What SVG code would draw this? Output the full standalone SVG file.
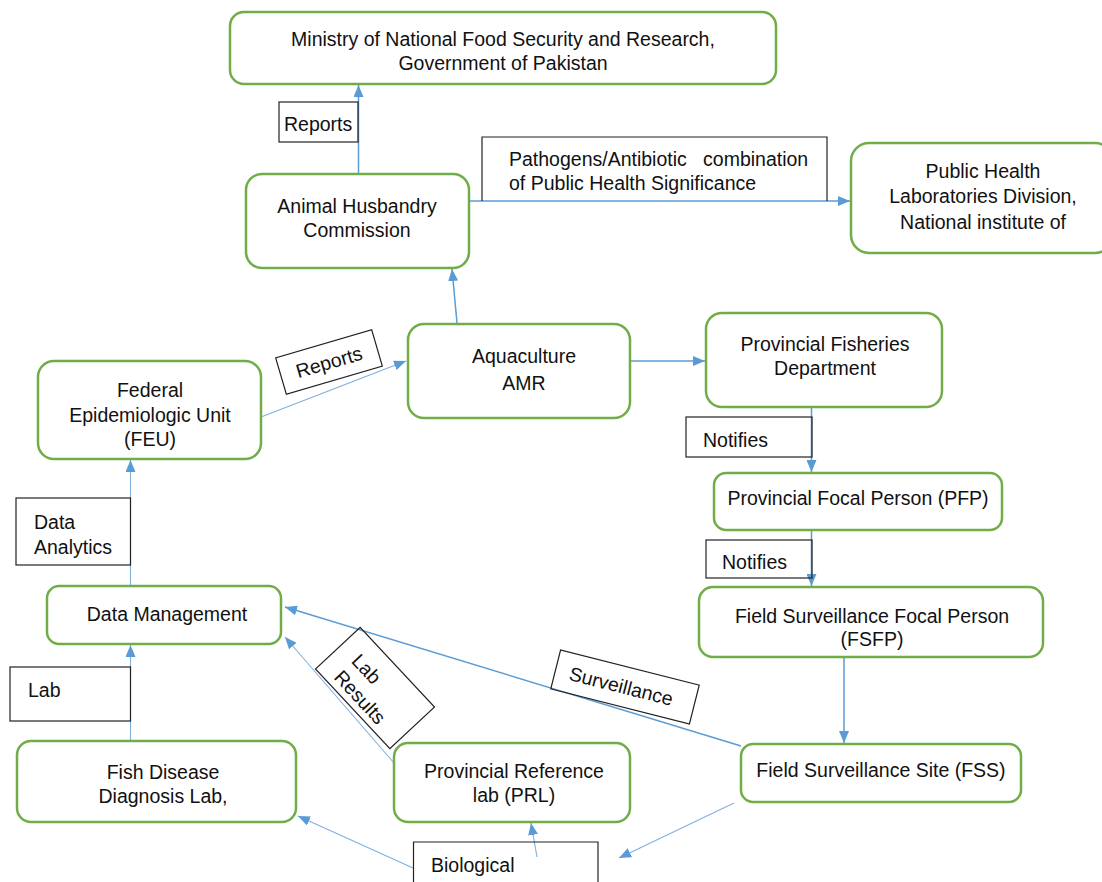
<svg xmlns="http://www.w3.org/2000/svg" width="1102" height="882" viewBox="0 0 1102 882">
<defs>
<style>
.node{fill:#fff;stroke:#70ad47;stroke-width:2.5}
.lbl{fill:none;stroke:#222;stroke-width:1.2}
.t{font-family:"Liberation Sans",Arial,sans-serif;font-size:19.5px;fill:#111}
.c{text-anchor:middle}
.e{fill:none;stroke:#5b9bd5;stroke-width:1.5}
.e2{fill:none;stroke:#7fb0de;stroke-width:1.1}
</style>
<marker id="ah" markerUnits="userSpaceOnUse" markerWidth="12" markerHeight="10" refX="12" refY="5" orient="auto">
<path d="M0,0 L12,5 L0,10 z" fill="#5b9bd5"/>
</marker>
</defs>
<rect width="1102" height="882" fill="#fff"/>

<g id="connectors">
<line class="e" x1="358.5" y1="174" x2="358.5" y2="85" marker-end="url(#ah)"/>
<line class="e" x1="468" y1="201" x2="850" y2="201" marker-end="url(#ah)"/>
<line class="e" x1="457" y1="323" x2="452" y2="269" marker-end="url(#ah)"/>
<line class="e" x1="630" y1="361" x2="705" y2="361" marker-end="url(#ah)"/>
<line class="e2" x1="261" y1="417" x2="406" y2="361" marker-end="url(#ah)"/>
<line class="e" x1="811.5" y1="407" x2="811.5" y2="472" marker-end="url(#ah)"/>
<line class="e" x1="811.5" y1="530" x2="811.5" y2="586" marker-end="url(#ah)"/>
<line class="e" x1="844" y1="647" x2="844" y2="743" marker-end="url(#ah)"/>
<line class="e2" x1="130.5" y1="585" x2="130.5" y2="460" marker-end="url(#ah)"/>
<line class="e2" x1="130.5" y1="762" x2="130.5" y2="645" marker-end="url(#ah)"/>
<line class="e" x1="741" y1="746" x2="285" y2="607" marker-end="url(#ah)"/>
<line class="e2" x1="394" y1="763" x2="285" y2="637" marker-end="url(#ah)"/>
<line class="e2" x1="734" y1="803" x2="619" y2="858" marker-end="url(#ah)"/>
<line class="e2" x1="537" y1="857" x2="531" y2="823" marker-end="url(#ah)"/>
<line class="e2" x1="413" y1="868" x2="298" y2="816" marker-end="url(#ah)"/>
</g>

<g id="labels">
<g id="lbl-reports-top"><rect class="lbl" x="279" y="102" width="79" height="40"/><text class="t" x="284" y="131">Reports</text></g>
<g id="lbl-pathogens"><path class="lbl" d="M482,201 V137 H827 V201"/><text class="t" x="509" y="166" xml:space="preserve">Pathogens/Antibiotic   combination</text><text class="t" x="509" y="190">of Public Health Significance</text></g>
<g id="lbl-reports-feu" transform="translate(329,362) rotate(-16.3)"><rect class="lbl" x="-50" y="-19" width="100" height="38"/><text class="t c" x="0" y="7">Reports</text></g>
<g id="lbl-notifies1"><rect class="lbl" x="686" y="417" width="126" height="40"/><text class="t" x="703" y="447">Notifies</text></g>
<g id="lbl-notifies2"><rect class="lbl" x="706" y="540" width="106" height="38"/><text class="t" x="722" y="569">Notifies</text></g>
<g id="lbl-data-analytics"><rect class="lbl" x="16" y="498" width="114.5" height="67"/><text class="t" x="34" y="529">Data</text><text class="t" x="34" y="554">Analytics</text></g>
<g id="lbl-lab"><rect class="lbl" x="10" y="667" width="120.5" height="54"/><text class="t" x="28" y="697">Lab</text></g>
<g id="lbl-lab-results" transform="translate(375,688) rotate(47)"><rect class="lbl" x="-54.5" y="-30.5" width="109" height="61"/><text class="t" x="-36" y="0">Lab</text><text class="t" x="-36" y="24">Results</text></g>
<g id="lbl-surveillance" transform="translate(625,687) rotate(14.2)"><rect class="lbl" x="-71.5" y="-20" width="143" height="40"/><text class="t c" x="-4" y="7">Surveillance</text></g>
<g id="lbl-biological"><path class="lbl" d="M413.5,882 V842 H598 V882"/><text class="t" x="431" y="872">Biological</text></g>
</g>

<g id="n-ministry"><rect class="node" x="230" y="12" width="546" height="72" rx="14"/><text class="t c" x="503" y="46">Ministry of National Food Security and Research,</text><text class="t c" x="503" y="70">Government of Pakistan</text></g>
<g id="n-ahc"><rect class="node" x="246" y="174" width="223" height="94" rx="16"/><text class="t c" x="357" y="213">Animal Husbandry</text><text class="t c" x="357" y="237">Commission</text></g>
<g id="n-phl"><rect class="node" x="851" y="143" width="262" height="110" rx="18"/><text class="t c" x="983" y="178">Public Health</text><text class="t c" x="983" y="203">Laboratories Division,</text><text class="t c" x="983" y="229">National institute of</text></g>
<g id="n-aqua"><rect class="node" x="408" y="324" width="222" height="94" rx="16"/><text class="t c" x="524" y="363">Aquaculture</text><text class="t c" x="524" y="390">AMR</text></g>
<g id="n-pfd"><rect class="node" x="706" y="313" width="236" height="94" rx="16"/><text class="t c" x="825" y="351">Provincial Fisheries</text><text class="t c" x="825" y="375">Department</text></g>
<g id="n-feu"><rect class="node" x="38" y="361" width="223" height="98" rx="16"/><text class="t c" x="150" y="397">Federal</text><text class="t c" x="150" y="422">Epidemiologic Unit</text><text class="t c" x="150" y="446">(FEU)</text></g>
<g id="n-pfp"><rect class="node" x="714" y="473" width="288" height="57" rx="12"/><text class="t c" x="858" y="505">Provincial Focal Person (PFP)</text></g>
<g id="n-fsfp"><rect class="node" x="699" y="587" width="344" height="70" rx="14"/><text class="t c" x="872" y="623">Field Surveillance Focal Person</text><text class="t c" x="872" y="646">(FSFP)</text></g>
<g id="n-dm"><rect class="node" x="47" y="586" width="234" height="58" rx="12"/><text class="t c" x="167" y="621">Data Management</text></g>
<g id="n-fddl"><rect class="node" x="17" y="741" width="279" height="81" rx="14"/><text class="t c" x="163" y="779">Fish Disease</text><text class="t c" x="163" y="803">Diagnosis Lab,</text></g>
<g id="n-prl"><rect class="node" x="394" y="743" width="236" height="79" rx="14"/><text class="t c" x="514" y="778">Provincial Reference</text><text class="t c" x="514" y="802">lab (PRL)</text></g>
<g id="n-fss"><rect class="node" x="741" y="744" width="280" height="58" rx="12"/><text class="t c" x="881" y="777">Field Surveillance Site (FSS)</text></g>
</svg>
